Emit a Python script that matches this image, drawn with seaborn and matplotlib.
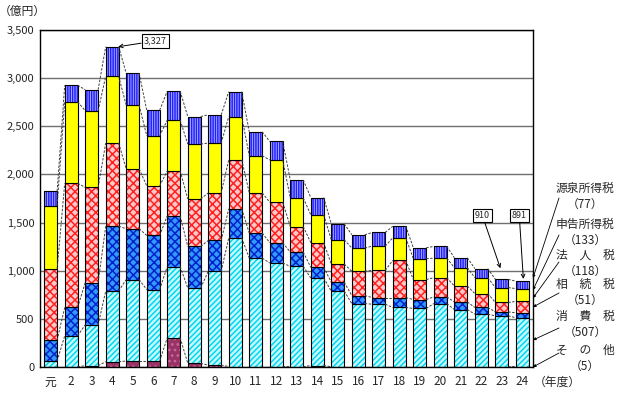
import numpy as np
import matplotlib
matplotlib.use("Agg")
import matplotlib.pyplot as plt
import seaborn as sns

# ==================================
# DATA (億円), stacked from the bottom up

years = ["元"] + [str(y) for y in range(2, 25)]

other         = [3, 3, 13, 55, 62, 62, 303, 38, 20, 5, 5, 5, 3, 15, 3, 3, 3, 3, 3, 3, 3, 3, 3, 5]
consumption   = [59, 321, 425, 735, 846, 742, 739, 783, 974, 1337, 1126, 1075, 1042, 909, 784, 656, 649, 615, 605, 656, 594, 546, 528, 507]
inheritance   = [217, 294, 439, 672, 528, 562, 528, 431, 320, 301, 259, 211, 148, 111, 93, 83, 69, 103, 93, 69, 79, 69, 41, 51]
corporate     = [735, 1289, 989, 864, 621, 515, 466, 494, 494, 510, 418, 420, 266, 256, 189, 252, 283, 386, 207, 200, 165, 145, 98, 118]
self_assessed = [663, 846, 797, 693, 662, 520, 528, 569, 518, 448, 386, 439, 297, 289, 253, 241, 252, 235, 217, 203, 191, 165, 155, 133]
withholding   = [148, 173, 217, 308, 331, 266, 300, 286, 293, 259, 249, 192, 187, 180, 165, 138, 141, 120, 114, 121, 103, 94, 85, 77]

series_labels = ["そ　の　他", "消　費　税", "相　続　税", "法　人　税", "申告所得税", "源泉所得税"]

# ==================================
# STYLE

sns.set_style("white")
plt.rcParams['font.family'] = ['Noto Sans CJK JP', 'DejaVu Sans']
plt.rcParams['hatch.linewidth'] = 1.1

# face colour, hatch, hatch colour for each layer
styles = [
    ("#993366", "...", "#c86a9c"),
    ("#c8f8ff", "//////", "#00d8f0"),
    ("#3399ff", "xxxx", "#0022cc"),
    ("#ffc8c8", "xxxx", "#ff2020"),
    ("#ffff00", None, "#ffff00"),
    ("#b8b8ff", "|||||||", "#2020ff"),
]

bar_w = 0.63

fig = plt.figure(figsize=(6.2, 3.98), dpi=100)
ax = fig.add_axes([40/620, 1 - 367/398, 493/620, 337/398])

layers = [other, consumption, inheritance, corporate, self_assessed, withholding]
bottom = np.zeros(len(years))
for vals, (fc, htch, hc) in zip(layers, styles):
    sns.barplot(x=years, y=vals, order=years, bottom=bottom, width=bar_w, saturation=1,
                color=fc, errorbar=None, facecolor=fc, edgecolor=hc, hatch=htch,
                linewidth=0, ax=ax)
    sns.barplot(x=years, y=vals, order=years, bottom=bottom, width=bar_w, saturation=1,
                color="black", errorbar=None, facecolor="none", edgecolor="black",
                linewidth=0.8, ax=ax)
    bottom = bottom + np.array(vals)

# dashed connectors between neighbouring bars
cum = np.cumsum(np.array(layers), axis=0)
half = bar_w / 2
for level in cum:
    for i in range(len(years) - 1):
        ax.plot([i + half, i + 1 - half], [level[i], level[i + 1]],
                color="#404040", lw=0.7, ls=(0, (2.5, 1.5)), zorder=1.5)

# axes
ax.set_xlim(-0.52, 23.52)
ax.set_ylim(0, 3500)
ax.set_yticks(range(0, 3501, 500))
ax.set_yticklabels([f"{v:,}" for v in range(0, 3501, 500)])
ax.yaxis.grid(True, color="#707070", lw=1)
ax.xaxis.grid(False)
ax.set_axisbelow(True)
ax.tick_params(axis="y", length=0, labelsize=8, pad=4)
ax.tick_params(axis="x", length=0, labelsize=8.5, pad=6)
ax.set_xlabel("")
ax.set_ylabel("")
for s in ax.spines.values():
    s.set_color("black")
    s.set_linewidth(1)

# callouts
box = dict(boxstyle="square,pad=0.25", fc="white", ec="black", lw=0.8)
arrow = dict(arrowstyle="->", color="black", lw=0.7, shrinkA=0, shrinkB=0)
tot = cum[-1]
ax.annotate(f"{tot[3]:,}", xy=(3.3, tot[3]), xytext=(5.1, 3385), fontsize=6.5,
            ha="center", va="center", bbox=box, arrowprops=arrow)
ax.annotate(f"{tot[22]:,}", xy=(21.93, 1025), xytext=(21.05, 1573), fontsize=6.5,
            ha="center", va="center", bbox=box, arrowprops=arrow)
ax.annotate(f"{tot[23]:,}", xy=(23.05, 915), xytext=(22.85, 1573), fontsize=6.5,
            ha="center", va="center", bbox=box, arrowprops=arrow, annotation_clip=False)

# right-hand labels with leader lines to the last bar
label_y = [350, 316, 284, 255, 224, 188]
tips = [0, 280, 623, 717, 800, 925]
starts = [353, 328, 293, 262, 235, 198]
lead = dict(arrowstyle="-|>", color="black", lw=0.6, mutation_scale=4, shrinkA=0, shrinkB=0)
for lab, vals, ly, tip, sy in zip(series_labels, layers, label_y, tips, starts):
    fig.text(585/620, 1 - ly/398, lab, ha="center", va="center", fontsize=8.5)
    fig.text(585/620, 1 - (ly + 16)/398, f"（{vals[-1]}）", ha="center", va="center", fontsize=8.5)
    ax.annotate("", xy=(23.52, tip), xycoords="data",
                xytext=(559/620, 1 - sy/398), textcoords="figure fraction",
                arrowprops=lead, annotation_clip=False)

fig.text(22/620, 1 - 11/398, "（億円）", ha="center", va="center", fontsize=8.5)
fig.text(557/620, 1 - 382/398, "（年度）", ha="center", va="center", fontsize=8.5)

plt.savefig("out.png", dpi=100, facecolor="white")
